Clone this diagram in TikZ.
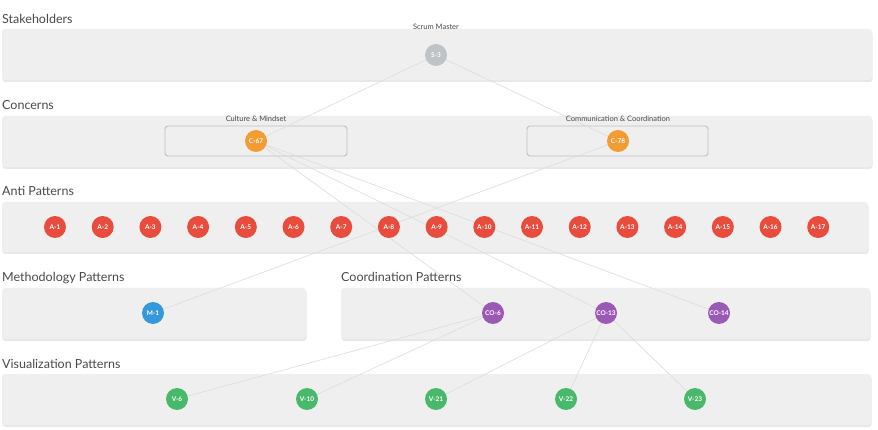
\documentclass[tikz,border=0pt]{standalone}
\usepackage{fontspec}
\setmainfont{Lato}
\usepackage{tikz}
\usetikzlibrary{shadows}

\definecolor{boxgray}{HTML}{EFEFEF}
\definecolor{linegray}{HTML}{DCDCDC}
\definecolor{titlegray}{HTML}{4A4A4A}
\definecolor{stakecol}{HTML}{BDC3C7}
\definecolor{concol}{HTML}{F39C33}
\definecolor{anticol}{HTML}{E74C3C}
\definecolor{methcol}{HTML}{3498DB}
\definecolor{coordcol}{HTML}{9B59B6}
\definecolor{viscol}{HTML}{48B96A}

\pgfdeclarelayer{boxes}
\pgfdeclarelayer{edges}
\pgfsetlayers{boxes,edges,main}

\tikzset{
  groupbox/.style={fill=boxgray, draw=none, rounded corners=3pt,
    drop shadow={opacity=0.18, shadow xshift=0.5pt, shadow yshift=-2pt}},
  concernbox/.style={fill=boxgray, draw=black!25, line width=0.9pt, rounded corners=3pt},
  grouptitle/.style={anchor=base west, inner sep=0pt, text=titlegray,
    font=\fontsize{12.5}{13}\selectfont},
  smalltitle/.style={anchor=base, inner sep=0pt, text=titlegray,
    font=\fontsize{7.5}{8}\selectfont},
  elem/.style={circle, minimum size=22pt, inner sep=0pt, text=white,
    font=\bfseries\fontsize{6.5}{6.5}\selectfont},
  link/.style={draw=linegray, line width=0.6pt}
}

\begin{document}
\begin{tikzpicture}[x=1pt,y=-1pt]
\useasboundingbox (0,0) rectangle (878,430);

\begin{pgfonlayer}{boxes}
\fill[white] (0,0) rectangle (878,430);
\draw[groupbox] (2,29) rectangle (872,80);
\draw[groupbox] (2,116) rectangle (872,167);
\draw[groupbox] (2,202) rectangle (868,252);
\draw[groupbox] (2,288) rectangle (306,339);
\draw[groupbox] (341,288) rectangle (870,339);
\draw[groupbox] (2,374) rectangle (871,425);

\draw[concernbox] (165,126) rectangle (347,156);
\draw[concernbox] (527,126) rectangle (708,156);
\end{pgfonlayer}

\node[grouptitle] (stakeTitle) at (2,24) {Stakeholders};
\node[grouptitle] (concTitle) at (2,110) {Concerns};
\node[grouptitle] (antiTitle) at (2,196) {Anti Patterns};
\node[grouptitle] (methTitle) at (2,282) {Methodology Patterns};
\node[grouptitle] (coordTitle) at (341,282) {Coordination Patterns};
\node[grouptitle] (visTitle) at (2,368) {Visualization Patterns};

\node[smalltitle] (smLabel) at (436,30) {Scrum Master};
\node[smalltitle] (cmLabel) at (256,122) {Culture \& Mindset};
\node[smalltitle] (ccLabel) at (618,122) {Communication \& Coordination};

\node[elem, fill=stakecol] (S3) at (436,55) {S-3};

\node[elem, fill=concol] (C67) at (256,141) {C-67};
\node[elem, fill=concol] (C78) at (618,141) {C-78};

\foreach \i in {1,...,17}
  \node[elem, fill=anticol] (A\i) at ({55+47.7*(\i-1)},227) {A-\i};

\node[elem, fill=methcol] (M1) at (153,313) {M-1};

\node[elem, fill=coordcol] (CO6) at (493,313) {CO-6};
\node[elem, fill=coordcol] (CO13) at (606,313) {CO-13};
\node[elem, fill=coordcol] (CO14) at (719,313) {CO-14};

\node[elem, fill=viscol] (V6) at (177,399) {V-6};
\node[elem, fill=viscol] (V10) at (307,399) {V-10};
\node[elem, fill=viscol] (V21) at (436,399) {V-21};
\node[elem, fill=viscol] (V22) at (566,399) {V-22};
\node[elem, fill=viscol] (V23) at (695,399) {V-23};

\begin{pgfonlayer}{edges}
\draw[link] (S3.center) -- (C67.center);
\draw[link] (S3.center) -- (C78.center);
\draw[link] (C67.center) -- (CO6.center);
\draw[link] (C67.center) -- (CO13.center);
\draw[link] (C67.center) -- (CO14.center);
\draw[link] (C78.center) -- (M1.center);
\foreach \v in {V6,V10}
  \draw[link] (CO6.center) -- (\v.center);
\foreach \v in {V21,V22,V23}
  \draw[link] (CO13.center) -- (\v.center);
\end{pgfonlayer}
\end{tikzpicture}
\end{document}
